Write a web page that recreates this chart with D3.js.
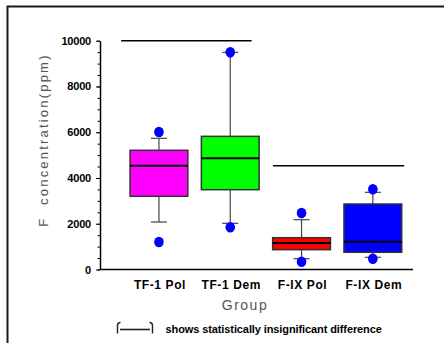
<!DOCTYPE html>
<html><head><meta charset="utf-8">
<script src="https://cdn.jsdelivr.net/npm/d3@7"></script>
<style>
html,body{margin:0;padding:0;background:#fff;}
svg{display:block;}
</style></head>
<body>
<svg id="c" width="444" height="343"></svg>
<script>
// ---- data ----
const categories = ["TF-1 Pol", "TF-1 Dem", "F-IX Pol", "F-IX Dem"];
const colors = ["#ff00ff", "#00ff00", "#ff0000", "#0000ff"];
const whiskerLow = [2076, 2019, 472, 533];
const q1 = [3199, 3488, 866, 752];
const median = [4537, 4860, 1158, 1215];
const q3 = [5210, 5820, 1390, 2863];
const whiskerHigh = [5734, 9490, 2177, 3374];
const outliers = [[6010, 1202], [9490, 1844], [2470, 341], [3505, 472]];
const yTicks = [0, 2000, 4000, 6000, 8000, 10000];
// significance bars: in category-index units
const sigBars = [
  {from: -0.53, to: 1.30, value: 10000},
  {from: 1.60, to: 3.44, value: 4537}
];
const yTitle = "F  concentration(ppm)";
const xTitle = "Group";
const legendText = "shows statistically insignificant difference";

// ---- layout ----
const svg = d3.select("#c");
const y = d3.scaleLinear().domain([0, 10000]).range([269.5, 40.7]);
const x = d3.scaleBand().domain(categories).range([123.3, 408.5])
  .paddingInner(0.19).paddingOuter(0.095);
const xi = d3.scaleLinear().domain([0, 3]).range([x(categories[0]) + x.bandwidth()/2, x(categories[3]) + x.bandwidth()/2]);

// frame
svg.append("rect").attr("x", 7.5).attr("y", 6.5).attr("width", 600).attr("height", 600)
  .attr("fill", "none").attr("stroke", "#1a1a1a").attr("stroke-width", 2);

// y axis minor
const axMinor = d3.axisLeft(y).tickValues(d3.range(0, 10001, 500)).tickSize(2.5).tickFormat("");
const gMinor = svg.append("g").attr("transform", "translate(100,0)").call(axMinor);
gMinor.select(".domain").remove();
gMinor.selectAll("line").attr("stroke", "#000");
const axMajor = d3.axisLeft(y).tickValues(yTicks).tickSize(4).tickPadding(5).tickSizeOuter(0)
  .tickFormat(d3.format("d"));
const gMajor = svg.append("g").attr("transform", "translate(100,0)").call(axMajor);
gMajor.select(".domain").attr("stroke", "#000").attr("stroke-width", 1.5);
gMajor.selectAll("line").attr("stroke", "#000");
gMajor.selectAll("text").attr("font-family", "Liberation Sans, Arial, sans-serif")
  .attr("font-weight", "bold").attr("font-size", 11).attr("fill", "#000").attr("letter-spacing", -0.2);

// x axis line
svg.append("line").attr("x1", 100).attr("x2", 413).attr("y1", y(0)).attr("y2", y(0))
  .attr("stroke", "#000").attr("stroke-width", 1.5);

// category labels
svg.append("g").selectAll("text").data(categories).join("text")
  .attr("x", d => x(d) + x.bandwidth()/2 + 1).attr("y", 289)
  .attr("text-anchor", "middle")
  .attr("font-family", "Liberation Sans, Arial, sans-serif").attr("font-weight", "bold")
  .attr("font-size", 12).attr("letter-spacing", 0.6).attr("fill", "#000")
  .text(d => d);

// boxes
const g = svg.append("g");
categories.forEach((c, i) => {
  const cx = x(c) + x.bandwidth()/2;
  const bw = x.bandwidth();
  g.append("line").attr("x1", cx).attr("x2", cx).attr("y1", y(q3[i])).attr("y2", y(whiskerHigh[i]))
    .attr("stroke", "#444").attr("stroke-width", 1.2);
  g.append("line").attr("x1", cx).attr("x2", cx).attr("y1", y(q1[i])).attr("y2", y(whiskerLow[i]))
    .attr("stroke", "#444").attr("stroke-width", 1.2);
  [whiskerHigh[i], whiskerLow[i]].forEach(v => {
    g.append("line").attr("x1", cx - 8).attr("x2", cx + 8).attr("y1", y(v)).attr("y2", y(v))
      .attr("stroke", "#444").attr("stroke-width", 1.2);
  });
  g.append("rect").attr("x", x(c)).attr("width", bw)
    .attr("y", y(q3[i])).attr("height", y(q1[i]) - y(q3[i]))
    .attr("fill", colors[i]).attr("stroke", "#333").attr("stroke-width", 1.5);
  g.append("line").attr("x1", x(c)).attr("x2", x(c) + bw).attr("y1", y(median[i])).attr("y2", y(median[i]))
    .attr("stroke", "#000").attr("stroke-width", 2);
  outliers[i].forEach(v => {
    g.append("ellipse").attr("cx", cx).attr("cy", y(v)).attr("rx", 4.8).attr("ry", 5.3)
      .attr("fill", "#0000ff");
  });
});

// significance bars
svg.append("g").selectAll("line").data(sigBars).join("line")
  .attr("x1", d => xi(d.from)).attr("x2", d => xi(d.to))
  .attr("y1", d => y(d.value)).attr("y2", d => y(d.value))
  .attr("stroke", "#000").attr("stroke-width", 1.5);

// axis titles
svg.append("text").attr("transform", "translate(48,140) rotate(-90)")
  .attr("text-anchor", "middle").attr("font-family", "Liberation Sans, Arial, sans-serif")
  .attr("font-size", 13).attr("letter-spacing", 2.2).attr("fill", "#555")
  .attr("xml:space", "preserve").style("white-space", "pre")
  .text(yTitle);
svg.append("text").attr("x", 245).attr("y", 310).attr("text-anchor", "middle")
  .attr("font-family", "Liberation Sans, Arial, sans-serif")
  .attr("font-size", 14).attr("letter-spacing", 1.5).attr("fill", "#555")
  .text(xTitle);

// legend
const lg = svg.append("g").attr("stroke", "#222").attr("fill", "none").attr("stroke-width", 1.4);
lg.append("path").attr("d", "M120.5,322.5 Q117.5,322.5 117.5,325.5 L117.5,333.5");
lg.append("path").attr("d", "M149.5,322.5 Q152.5,322.5 152.5,325.5 L152.5,333.5");
lg.append("line").attr("x1", 120).attr("x2", 150).attr("y1", 329.5).attr("y2", 329.5).attr("stroke-width", 1.6);
svg.append("text").attr("x", 165.5).attr("y", 332.5)
  .attr("font-family", "Liberation Sans, Arial, sans-serif").attr("font-weight", "bold")
  .attr("font-size", 11).attr("letter-spacing", -0.1).attr("fill", "#000")
  .text(legendText);
</script>
</body></html>
